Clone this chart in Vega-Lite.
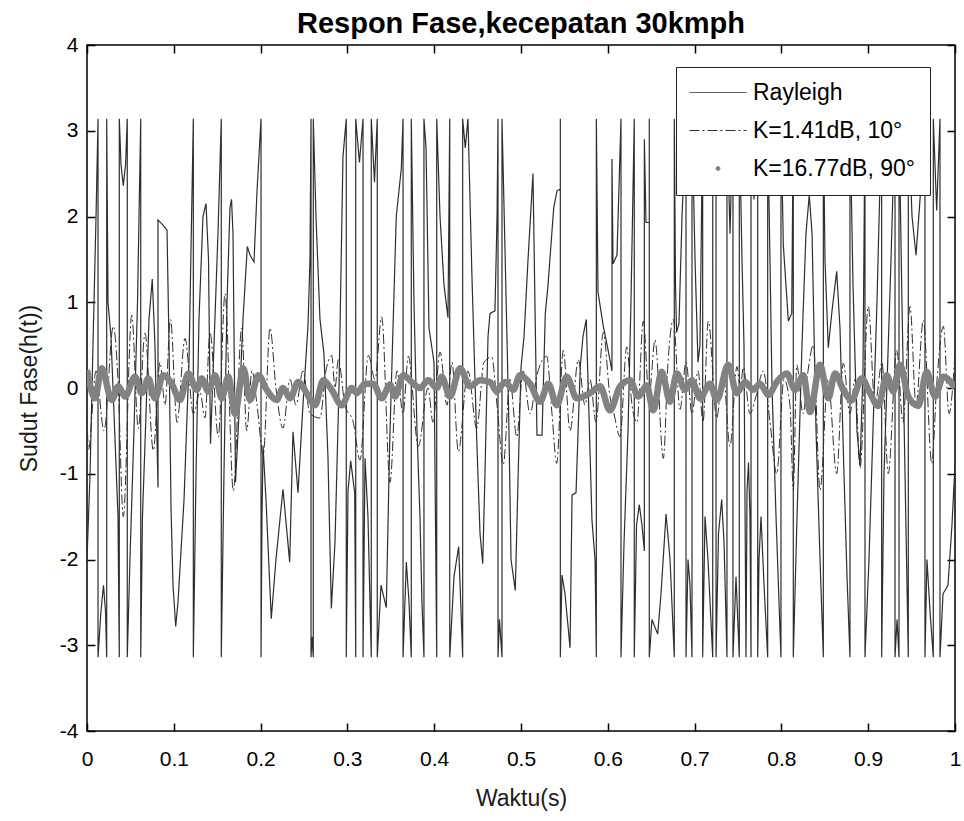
{
"$schema": "https://vega.github.io/schema/vega-lite/v6.json",
"width": 868, "height": 686,
"autosize": {"type": "none"},
"padding": {"left": 87, "top": 45, "right": 9, "bottom": 90},
"background": "white",
"title": {"text": "Respon Fase,kecepatan 30kmph", "font": "Liberation Sans", "fontSize": 29, "fontWeight": "bold", "color": "black", "anchor": "middle", "offset": 9, "dy": 14},
"config": {
  "view": {"stroke": "black", "strokeWidth": 1.5},
  "axis": {"grid": false, "domain": false, "labelFont": "Liberation Sans", "labelFontSize": 21, "labelColor": "black", "titleFont": "Liberation Sans", "titleFontSize": 23, "titleFontWeight": "normal", "titleColor": "#1a1a1a", "tickColor": "black", "tickWidth": 1.5, "tickSize": -8, "labelFlush": false, "labelBound": false, "labelOverlap": false, "minExtent": 0},
  "legend": {"orient": "none", "legendX": 589, "legendY": 22, "title": null, "fillColor": "white", "strokeColor": "#222222", "padding": 14, "labelFont": "Liberation Sans", "labelFontSize": 23, "labelColor": "black", "labelLimit": 400, "symbolSize": 400, "rowPadding": 14, "symbolOffset": 16.5, "labelOffset": 23.5, "symbolStrokeWidth": 1}
},
"datasets": {
"ray": [
{"s":"Rayleigh","i":1,"t":0,"v":-2},{"s":"Rayleigh","i":2,"t":0.0035,"v":-1},{"s":"Rayleigh","i":3,"t":0.0069,"v":0.5},{"s":"Rayleigh","i":4,"t":0.0104,"v":2},{"s":"Rayleigh","i":5,"t":0.0127,"v":3.14},{"s":"Rayleigh","i":6,"t":0.0127,"v":-3.14},{"s":"Rayleigh","i":7,"t":0.0161,"v":-2.6},{"s":"Rayleigh","i":8,"t":0.019,"v":-2.3},{"s":"Rayleigh","i":9,"t":0.0213,"v":-2.6},{"s":"Rayleigh","i":10,"t":0.0227,"v":-3.14},
{"s":"Rayleigh","i":11,"t":0.0227,"v":3.14},{"s":"Rayleigh","i":12,"t":0.0242,"v":1},{"s":"Rayleigh","i":13,"t":0.0276,"v":0.6},{"s":"Rayleigh","i":14,"t":0.0323,"v":-0.6},{"s":"Rayleigh","i":15,"t":0.0357,"v":-1.5},{"s":"Rayleigh","i":16,"t":0.0372,"v":-3.14},{"s":"Rayleigh","i":17,"t":0.0372,"v":3.14},{"s":"Rayleigh","i":18,"t":0.0392,"v":2.6},{"s":"Rayleigh","i":19,"t":0.0418,"v":2.36},{"s":"Rayleigh","i":20,"t":0.0444,"v":2.6},
{"s":"Rayleigh","i":21,"t":0.0464,"v":3.14},{"s":"Rayleigh","i":22,"t":0.0464,"v":-3.14},{"s":"Rayleigh","i":23,"t":0.0495,"v":-2},{"s":"Rayleigh","i":24,"t":0.0541,"v":-0.5},{"s":"Rayleigh","i":25,"t":0.0582,"v":1},{"s":"Rayleigh","i":26,"t":0.0619,"v":3.14},{"s":"Rayleigh","i":27,"t":0.0619,"v":-3.14},{"s":"Rayleigh","i":28,"t":0.0639,"v":-1.5},{"s":"Rayleigh","i":29,"t":0.068,"v":-0.3},{"s":"Rayleigh","i":30,"t":0.0714,"v":0.8},
{"s":"Rayleigh","i":31,"t":0.0752,"v":1.27},{"s":"Rayleigh","i":32,"t":0.0783,"v":0.5},{"s":"Rayleigh","i":33,"t":0.0818,"v":-1.16},{"s":"Rayleigh","i":34,"t":0.0818,"v":1.96},{"s":"Rayleigh","i":35,"t":0.0876,"v":1.9},{"s":"Rayleigh","i":36,"t":0.0922,"v":1.84},{"s":"Rayleigh","i":37,"t":0.0945,"v":0.5},{"s":"Rayleigh","i":38,"t":0.0968,"v":-1.4},{"s":"Rayleigh","i":39,"t":0.0991,"v":-2.3},{"s":"Rayleigh","i":40,"t":0.1022,"v":-2.78},
{"s":"Rayleigh","i":41,"t":0.1048,"v":-2.5},{"s":"Rayleigh","i":42,"t":0.1118,"v":-1.3},{"s":"Rayleigh","i":43,"t":0.1175,"v":0.3},{"s":"Rayleigh","i":44,"t":0.1225,"v":3.14},{"s":"Rayleigh","i":45,"t":0.1225,"v":-3.14},{"s":"Rayleigh","i":46,"t":0.1256,"v":-1},{"s":"Rayleigh","i":47,"t":0.129,"v":0.8},{"s":"Rayleigh","i":48,"t":0.1336,"v":2},{"s":"Rayleigh","i":49,"t":0.1371,"v":2.15},{"s":"Rayleigh","i":50,"t":0.14,"v":1.5},
{"s":"Rayleigh","i":51,"t":0.1423,"v":-0.65},{"s":"Rayleigh","i":52,"t":0.1463,"v":0.5},{"s":"Rayleigh","i":53,"t":0.1509,"v":1.8},{"s":"Rayleigh","i":54,"t":0.1547,"v":3.14},{"s":"Rayleigh","i":55,"t":0.1547,"v":-3.14},{"s":"Rayleigh","i":56,"t":0.1578,"v":-1},{"s":"Rayleigh","i":57,"t":0.1613,"v":1},{"s":"Rayleigh","i":58,"t":0.1647,"v":2.1},{"s":"Rayleigh","i":59,"t":0.1665,"v":2.2},{"s":"Rayleigh","i":60,"t":0.1682,"v":1.8},
{"s":"Rayleigh","i":61,"t":0.1711,"v":-1.1},{"s":"Rayleigh","i":62,"t":0.1751,"v":-0.3},{"s":"Rayleigh","i":63,"t":0.1797,"v":0.8},{"s":"Rayleigh","i":64,"t":0.1847,"v":1.65},{"s":"Rayleigh","i":65,"t":0.1878,"v":1.55},{"s":"Rayleigh","i":66,"t":0.1924,"v":1.47},{"s":"Rayleigh","i":67,"t":0.1959,"v":2.3},{"s":"Rayleigh","i":68,"t":0.2005,"v":3.14},{"s":"Rayleigh","i":69,"t":0.2005,"v":-3.14},{"s":"Rayleigh","i":70,"t":0.2016,"v":-1.5},
{"s":"Rayleigh","i":71,"t":0.2028,"v":-0.67},{"s":"Rayleigh","i":72,"t":0.2062,"v":-1.3},{"s":"Rayleigh","i":73,"t":0.2123,"v":-2.69},{"s":"Rayleigh","i":74,"t":0.2177,"v":-2},{"s":"Rayleigh","i":75,"t":0.2258,"v":-1.18},{"s":"Rayleigh","i":76,"t":0.2335,"v":-2.03},{"s":"Rayleigh","i":77,"t":0.2373,"v":-0.51},{"s":"Rayleigh","i":78,"t":0.2431,"v":-1.22},{"s":"Rayleigh","i":79,"t":0.2488,"v":-0.2},{"s":"Rayleigh","i":80,"t":0.2546,"v":0.73},
{"s":"Rayleigh","i":81,"t":0.2569,"v":1.5},{"s":"Rayleigh","i":82,"t":0.2581,"v":3.14},{"s":"Rayleigh","i":83,"t":0.2581,"v":-3.14},{"s":"Rayleigh","i":84,"t":0.2592,"v":-2.9},{"s":"Rayleigh","i":85,"t":0.2607,"v":-3.14},{"s":"Rayleigh","i":86,"t":0.2607,"v":3.14},{"s":"Rayleigh","i":87,"t":0.2638,"v":2},{"s":"Rayleigh","i":88,"t":0.2684,"v":0.8},{"s":"Rayleigh","i":89,"t":0.273,"v":0.4},{"s":"Rayleigh","i":90,"t":0.2776,"v":-0.8},
{"s":"Rayleigh","i":91,"t":0.2815,"v":-2.57},{"s":"Rayleigh","i":92,"t":0.2857,"v":-1.8},{"s":"Rayleigh","i":93,"t":0.2903,"v":0},{"s":"Rayleigh","i":94,"t":0.2949,"v":2.7},{"s":"Rayleigh","i":95,"t":0.2987,"v":3.14},{"s":"Rayleigh","i":96,"t":0.2987,"v":-3.14},{"s":"Rayleigh","i":97,"t":0.3007,"v":-1.2},{"s":"Rayleigh","i":98,"t":0.3038,"v":-0.85},{"s":"Rayleigh","i":99,"t":0.3084,"v":-1.22},{"s":"Rayleigh","i":100,"t":0.3096,"v":-3.14},
{"s":"Rayleigh","i":101,"t":0.3096,"v":3.14},{"s":"Rayleigh","i":102,"t":0.3139,"v":2.63},{"s":"Rayleigh","i":103,"t":0.318,"v":3.14},{"s":"Rayleigh","i":104,"t":0.318,"v":-3.14},{"s":"Rayleigh","i":105,"t":0.3203,"v":-0.82},{"s":"Rayleigh","i":106,"t":0.3237,"v":-1.5},{"s":"Rayleigh","i":107,"t":0.3275,"v":-3.14},{"s":"Rayleigh","i":108,"t":0.3275,"v":3.14},{"s":"Rayleigh","i":109,"t":0.3312,"v":2.4},{"s":"Rayleigh","i":110,"t":0.3344,"v":3.14},
{"s":"Rayleigh","i":111,"t":0.3344,"v":-3.14},{"s":"Rayleigh","i":112,"t":0.3387,"v":-2.3},{"s":"Rayleigh","i":113,"t":0.3448,"v":-2.56},{"s":"Rayleigh","i":114,"t":0.3487,"v":-0.65},{"s":"Rayleigh","i":115,"t":0.3525,"v":0.69},{"s":"Rayleigh","i":116,"t":0.3563,"v":2},{"s":"Rayleigh","i":117,"t":0.3621,"v":2.56},{"s":"Rayleigh","i":118,"t":0.3641,"v":3.14},{"s":"Rayleigh","i":119,"t":0.3641,"v":-3.14},{"s":"Rayleigh","i":120,"t":0.3679,"v":-2.03},
{"s":"Rayleigh","i":121,"t":0.371,"v":-2.5},{"s":"Rayleigh","i":122,"t":0.3736,"v":-3.14},{"s":"Rayleigh","i":123,"t":0.3736,"v":3.14},{"s":"Rayleigh","i":124,"t":0.3767,"v":1},{"s":"Rayleigh","i":125,"t":0.3802,"v":-0.5},{"s":"Rayleigh","i":126,"t":0.3836,"v":-1.5},{"s":"Rayleigh","i":127,"t":0.3859,"v":-2.5},{"s":"Rayleigh","i":128,"t":0.3882,"v":-3.14},{"s":"Rayleigh","i":129,"t":0.3882,"v":3.14},{"s":"Rayleigh","i":130,"t":0.3906,"v":2.8},
{"s":"Rayleigh","i":131,"t":0.394,"v":0.7},{"s":"Rayleigh","i":132,"t":0.3998,"v":0.3},{"s":"Rayleigh","i":133,"t":0.4029,"v":-3.14},{"s":"Rayleigh","i":134,"t":0.4029,"v":3.14},{"s":"Rayleigh","i":135,"t":0.4067,"v":2},{"s":"Rayleigh","i":136,"t":0.4113,"v":1.2},{"s":"Rayleigh","i":137,"t":0.4159,"v":0.82},{"s":"Rayleigh","i":138,"t":0.4179,"v":3.14},{"s":"Rayleigh","i":139,"t":0.4179,"v":-3.14},{"s":"Rayleigh","i":140,"t":0.4228,"v":-2.2},
{"s":"Rayleigh","i":141,"t":0.4282,"v":-1.85},{"s":"Rayleigh","i":142,"t":0.4328,"v":-3.14},{"s":"Rayleigh","i":143,"t":0.4328,"v":3.14},{"s":"Rayleigh","i":144,"t":0.4358,"v":2.8},{"s":"Rayleigh","i":145,"t":0.4389,"v":3.14},{"s":"Rayleigh","i":146,"t":0.4435,"v":1.3},{"s":"Rayleigh","i":147,"t":0.449,"v":-0.6},{"s":"Rayleigh","i":148,"t":0.4528,"v":-1.7},{"s":"Rayleigh","i":149,"t":0.4559,"v":-2.05},{"s":"Rayleigh","i":150,"t":0.4585,"v":-1},
{"s":"Rayleigh","i":151,"t":0.462,"v":0.6},{"s":"Rayleigh","i":152,"t":0.4643,"v":0.87},{"s":"Rayleigh","i":153,"t":0.47,"v":0.9},{"s":"Rayleigh","i":154,"t":0.4724,"v":2},{"s":"Rayleigh","i":155,"t":0.4735,"v":3.14},{"s":"Rayleigh","i":156,"t":0.4735,"v":-3.14},{"s":"Rayleigh","i":157,"t":0.4752,"v":-2.7},{"s":"Rayleigh","i":158,"t":0.4781,"v":-3.14},{"s":"Rayleigh","i":159,"t":0.4781,"v":3.14},{"s":"Rayleigh","i":160,"t":0.4816,"v":1.6},
{"s":"Rayleigh","i":161,"t":0.4858,"v":-0.3},{"s":"Rayleigh","i":162,"t":0.4885,"v":-2},{"s":"Rayleigh","i":163,"t":0.4934,"v":-2.36},{"s":"Rayleigh","i":164,"t":0.4965,"v":-1.1},{"s":"Rayleigh","i":165,"t":0.5,"v":0.24},{"s":"Rayleigh","i":166,"t":0.5035,"v":0.6},{"s":"Rayleigh","i":167,"t":0.5081,"v":1.5},{"s":"Rayleigh","i":168,"t":0.5138,"v":2.5},{"s":"Rayleigh","i":169,"t":0.5165,"v":0.7},{"s":"Rayleigh","i":170,"t":0.5184,"v":-0.55},
{"s":"Rayleigh","i":171,"t":0.5242,"v":-0.55},{"s":"Rayleigh","i":172,"t":0.528,"v":0.87},{"s":"Rayleigh","i":173,"t":0.5311,"v":1.2},{"s":"Rayleigh","i":174,"t":0.5377,"v":2.1},{"s":"Rayleigh","i":175,"t":0.5415,"v":2.3},{"s":"Rayleigh","i":176,"t":0.5453,"v":2.32},{"s":"Rayleigh","i":177,"t":0.5453,"v":3.14},{"s":"Rayleigh","i":178,"t":0.5453,"v":-3.14},{"s":"Rayleigh","i":179,"t":0.5472,"v":-2.18},{"s":"Rayleigh","i":180,"t":0.5507,"v":-2.4},
{"s":"Rayleigh","i":181,"t":0.5565,"v":-3.03},{"s":"Rayleigh","i":182,"t":0.5588,"v":-1.25},{"s":"Rayleigh","i":183,"t":0.5634,"v":-1.22},{"s":"Rayleigh","i":184,"t":0.5683,"v":0.25},{"s":"Rayleigh","i":185,"t":0.5714,"v":0.6},{"s":"Rayleigh","i":186,"t":0.5752,"v":0.8},{"s":"Rayleigh","i":187,"t":0.578,"v":-0.2},{"s":"Rayleigh","i":188,"t":0.5818,"v":-1.55},{"s":"Rayleigh","i":189,"t":0.5853,"v":-2},{"s":"Rayleigh","i":190,"t":0.5868,"v":-3.14},
{"s":"Rayleigh","i":191,"t":0.5868,"v":3.14},{"s":"Rayleigh","i":192,"t":0.5887,"v":1.12},{"s":"Rayleigh","i":193,"t":0.5945,"v":0.74},{"s":"Rayleigh","i":194,"t":0.6002,"v":0.45},{"s":"Rayleigh","i":195,"t":0.6048,"v":0.2},{"s":"Rayleigh","i":196,"t":0.6048,"v":2.67},{"s":"Rayleigh","i":197,"t":0.606,"v":1.45},{"s":"Rayleigh","i":198,"t":0.6106,"v":1.55},{"s":"Rayleigh","i":199,"t":0.6152,"v":3.14},{"s":"Rayleigh","i":200,"t":0.6152,"v":-3.14},
{"s":"Rayleigh","i":201,"t":0.6187,"v":-1.8},{"s":"Rayleigh","i":202,"t":0.6233,"v":-0.5},{"s":"Rayleigh","i":203,"t":0.6267,"v":1},{"s":"Rayleigh","i":204,"t":0.6305,"v":3.14},{"s":"Rayleigh","i":205,"t":0.6305,"v":-3.14},{"s":"Rayleigh","i":206,"t":0.6331,"v":-1.6},{"s":"Rayleigh","i":207,"t":0.6363,"v":-1.36},{"s":"Rayleigh","i":208,"t":0.6394,"v":-1.6},{"s":"Rayleigh","i":209,"t":0.6421,"v":-1.9},{"s":"Rayleigh","i":210,"t":0.6421,"v":2.9},
{"s":"Rayleigh","i":211,"t":0.644,"v":1.93},{"s":"Rayleigh","i":212,"t":0.6478,"v":1.93},{"s":"Rayleigh","i":213,"t":0.6478,"v":3.14},{"s":"Rayleigh","i":214,"t":0.6478,"v":-3.14},{"s":"Rayleigh","i":215,"t":0.6509,"v":-2.7},{"s":"Rayleigh","i":216,"t":0.6575,"v":-2.87},{"s":"Rayleigh","i":217,"t":0.6613,"v":-2.4},{"s":"Rayleigh","i":218,"t":0.6671,"v":-1.47},{"s":"Rayleigh","i":219,"t":0.6717,"v":-2},{"s":"Rayleigh","i":220,"t":0.6766,"v":-3.14},
{"s":"Rayleigh","i":221,"t":0.6766,"v":3.14},{"s":"Rayleigh","i":222,"t":0.678,"v":1.2},{"s":"Rayleigh","i":223,"t":0.6792,"v":0.65},{"s":"Rayleigh","i":224,"t":0.682,"v":0.75},{"s":"Rayleigh","i":225,"t":0.6855,"v":2},{"s":"Rayleigh","i":226,"t":0.6901,"v":3.14},{"s":"Rayleigh","i":227,"t":0.6901,"v":-3.14},{"s":"Rayleigh","i":228,"t":0.6924,"v":-2},{"s":"Rayleigh","i":229,"t":0.6947,"v":-2.3},{"s":"Rayleigh","i":230,"t":0.697,"v":-3.14},
{"s":"Rayleigh","i":231,"t":0.697,"v":3.14},{"s":"Rayleigh","i":232,"t":0.7005,"v":1.5},{"s":"Rayleigh","i":233,"t":0.7039,"v":0.3},{"s":"Rayleigh","i":234,"t":0.7062,"v":0.5},{"s":"Rayleigh","i":235,"t":0.7093,"v":3.14},{"s":"Rayleigh","i":236,"t":0.7093,"v":-3.14},{"s":"Rayleigh","i":237,"t":0.712,"v":-1.5},{"s":"Rayleigh","i":238,"t":0.7154,"v":-2},{"s":"Rayleigh","i":239,"t":0.7209,"v":-3.14},{"s":"Rayleigh","i":240,"t":0.7209,"v":3.14},
{"s":"Rayleigh","i":241,"t":0.7224,"v":2.6},{"s":"Rayleigh","i":242,"t":0.7247,"v":3.14},{"s":"Rayleigh","i":243,"t":0.7247,"v":-3.14},{"s":"Rayleigh","i":244,"t":0.7275,"v":-1.7},{"s":"Rayleigh","i":245,"t":0.7312,"v":-1.3},{"s":"Rayleigh","i":246,"t":0.7339,"v":-1.8},{"s":"Rayleigh","i":247,"t":0.7373,"v":-3.14},{"s":"Rayleigh","i":248,"t":0.7373,"v":3.14},{"s":"Rayleigh","i":249,"t":0.7408,"v":1.8},{"s":"Rayleigh","i":250,"t":0.7442,"v":3.14},
{"s":"Rayleigh","i":251,"t":0.7442,"v":-3.14},{"s":"Rayleigh","i":252,"t":0.7477,"v":-2.2},{"s":"Rayleigh","i":253,"t":0.7515,"v":-3.14},{"s":"Rayleigh","i":254,"t":0.7515,"v":3.14},{"s":"Rayleigh","i":255,"t":0.7546,"v":1.5},{"s":"Rayleigh","i":256,"t":0.7569,"v":0.5},{"s":"Rayleigh","i":257,"t":0.7592,"v":-3.14},{"s":"Rayleigh","i":258,"t":0.7604,"v":-1.2},{"s":"Rayleigh","i":259,"t":0.7621,"v":-0.87},{"s":"Rayleigh","i":260,"t":0.7638,"v":-1.5},
{"s":"Rayleigh","i":261,"t":0.765,"v":-3.14},{"s":"Rayleigh","i":262,"t":0.765,"v":3.14},{"s":"Rayleigh","i":263,"t":0.7684,"v":2.2},{"s":"Rayleigh","i":264,"t":0.7727,"v":3.14},{"s":"Rayleigh","i":265,"t":0.7727,"v":-3.14},{"s":"Rayleigh","i":266,"t":0.7742,"v":-2},{"s":"Rayleigh","i":267,"t":0.7765,"v":-1.5},{"s":"Rayleigh","i":268,"t":0.78,"v":-2.3},{"s":"Rayleigh","i":269,"t":0.7842,"v":-3.14},{"s":"Rayleigh","i":270,"t":0.7842,"v":3.14},
{"s":"Rayleigh","i":271,"t":0.7892,"v":0},{"s":"Rayleigh","i":272,"t":0.7938,"v":-1.5},{"s":"Rayleigh","i":273,"t":0.7995,"v":-3.14},{"s":"Rayleigh","i":274,"t":0.7995,"v":3.14},{"s":"Rayleigh","i":275,"t":0.8022,"v":1.67},{"s":"Rayleigh","i":276,"t":0.808,"v":0.78},{"s":"Rayleigh","i":277,"t":0.8119,"v":0.87},{"s":"Rayleigh","i":278,"t":0.8137,"v":3.14},{"s":"Rayleigh","i":279,"t":0.8137,"v":-3.14},{"s":"Rayleigh","i":280,"t":0.818,"v":-1.5},
{"s":"Rayleigh","i":281,"t":0.8237,"v":0.5},{"s":"Rayleigh","i":282,"t":0.8283,"v":1.8},{"s":"Rayleigh","i":283,"t":0.8321,"v":2.25},{"s":"Rayleigh","i":284,"t":0.8353,"v":1.8},{"s":"Rayleigh","i":285,"t":0.8399,"v":-0.5},{"s":"Rayleigh","i":286,"t":0.8445,"v":-2},{"s":"Rayleigh","i":287,"t":0.8483,"v":-3.14},{"s":"Rayleigh","i":288,"t":0.8483,"v":3.14},{"s":"Rayleigh","i":289,"t":0.8502,"v":1.5},{"s":"Rayleigh","i":290,"t":0.854,"v":0.47},
{"s":"Rayleigh","i":291,"t":0.8583,"v":0.9},{"s":"Rayleigh","i":292,"t":0.8637,"v":1.36},{"s":"Rayleigh","i":293,"t":0.8675,"v":0.7},{"s":"Rayleigh","i":294,"t":0.8721,"v":-1},{"s":"Rayleigh","i":295,"t":0.8756,"v":-2.2},{"s":"Rayleigh","i":296,"t":0.879,"v":-3.14},{"s":"Rayleigh","i":297,"t":0.879,"v":3.14},{"s":"Rayleigh","i":298,"t":0.8825,"v":1.2},{"s":"Rayleigh","i":299,"t":0.8871,"v":-0.5},{"s":"Rayleigh","i":300,"t":0.8906,"v":-0.91},
{"s":"Rayleigh","i":301,"t":0.894,"v":0.2},{"s":"Rayleigh","i":302,"t":0.8963,"v":3.14},{"s":"Rayleigh","i":303,"t":0.8963,"v":-3.14},{"s":"Rayleigh","i":304,"t":0.9009,"v":-2},{"s":"Rayleigh","i":305,"t":0.9055,"v":-0.5},{"s":"Rayleigh","i":306,"t":0.9101,"v":1},{"s":"Rayleigh","i":307,"t":0.9155,"v":3.14},{"s":"Rayleigh","i":308,"t":0.9155,"v":-3.14},{"s":"Rayleigh","i":309,"t":0.9182,"v":-1},{"s":"Rayleigh","i":310,"t":0.9228,"v":0.4},
{"s":"Rayleigh","i":311,"t":0.9263,"v":1.5},{"s":"Rayleigh","i":312,"t":0.9309,"v":3.14},{"s":"Rayleigh","i":313,"t":0.9309,"v":-3.14},{"s":"Rayleigh","i":314,"t":0.9332,"v":-2.7},{"s":"Rayleigh","i":315,"t":0.9355,"v":-3.14},{"s":"Rayleigh","i":316,"t":0.9355,"v":3.14},{"s":"Rayleigh","i":317,"t":0.9389,"v":1},{"s":"Rayleigh","i":318,"t":0.9424,"v":-1},{"s":"Rayleigh","i":319,"t":0.9462,"v":-3.14},{"s":"Rayleigh","i":320,"t":0.9462,"v":3.14},
{"s":"Rayleigh","i":321,"t":0.9505,"v":2},{"s":"Rayleigh","i":322,"t":0.9551,"v":1.55},{"s":"Rayleigh","i":323,"t":0.9597,"v":2.2},{"s":"Rayleigh","i":324,"t":0.9654,"v":3.14},{"s":"Rayleigh","i":325,"t":0.9654,"v":-3.14},{"s":"Rayleigh","i":326,"t":0.9677,"v":-2},{"s":"Rayleigh","i":327,"t":0.9712,"v":-2.6},{"s":"Rayleigh","i":328,"t":0.975,"v":-3.14},{"s":"Rayleigh","i":329,"t":0.975,"v":3.14},{"s":"Rayleigh","i":330,"t":0.9789,"v":2.07},
{"s":"Rayleigh","i":331,"t":0.9827,"v":3.14},{"s":"Rayleigh","i":332,"t":0.9827,"v":-3.14},{"s":"Rayleigh","i":333,"t":0.9862,"v":-2.4},{"s":"Rayleigh","i":334,"t":0.9919,"v":-2.3},{"s":"Rayleigh","i":335,"t":0.9965,"v":-1.6},{"s":"Rayleigh","i":336,"t":1,"v":-0.9}
],
"k1": [
{"s":"K=1.41dB, 10°","t":0,"v":-0.3},{"s":"K=1.41dB, 10°","t":0.0017,"v":-0.72},{"s":"K=1.41dB, 10°","t":0.0104,"v":0.2},{"s":"K=1.41dB, 10°","t":0.0196,"v":-0.5},{"s":"K=1.41dB, 10°","t":0.0303,"v":0.72},{"s":"K=1.41dB, 10°","t":0.0357,"v":0.1},{"s":"K=1.41dB, 10°","t":0.0418,"v":-1.5},{"s":"K=1.41dB, 10°","t":0.0515,"v":0.85},{"s":"K=1.41dB, 10°","t":0.0591,"v":-0.47},{"s":"K=1.41dB, 10°","t":0.0668,"v":0.64},
{"s":"K=1.41dB, 10°","t":0.0764,"v":-0.73},{"s":"K=1.41dB, 10°","t":0.0841,"v":0.3},{"s":"K=1.41dB, 10°","t":0.0899,"v":-0.2},{"s":"K=1.41dB, 10°","t":0.0962,"v":0.8},{"s":"K=1.41dB, 10°","t":0.1037,"v":-0.4},{"s":"K=1.41dB, 10°","t":0.1129,"v":0.58},{"s":"K=1.41dB, 10°","t":0.1225,"v":-0.3},{"s":"K=1.41dB, 10°","t":0.1302,"v":-0.05},{"s":"K=1.41dB, 10°","t":0.1359,"v":-0.35},{"s":"K=1.41dB, 10°","t":0.1417,"v":0.65},
{"s":"K=1.41dB, 10°","t":0.1513,"v":-0.57},{"s":"K=1.41dB, 10°","t":0.159,"v":1.1},{"s":"K=1.41dB, 10°","t":0.1686,"v":-1.2},{"s":"K=1.41dB, 10°","t":0.1782,"v":0.7},{"s":"K=1.41dB, 10°","t":0.184,"v":-0.5},{"s":"K=1.41dB, 10°","t":0.1901,"v":0.2},{"s":"K=1.41dB, 10°","t":0.1959,"v":-0.2},{"s":"K=1.41dB, 10°","t":0.2031,"v":-0.78},{"s":"K=1.41dB, 10°","t":0.2108,"v":0.7},{"s":"K=1.41dB, 10°","t":0.2177,"v":0},
{"s":"K=1.41dB, 10°","t":0.2258,"v":-0.47},{"s":"K=1.41dB, 10°","t":0.2339,"v":0.1},{"s":"K=1.41dB, 10°","t":0.2408,"v":-0.2},{"s":"K=1.41dB, 10°","t":0.2488,"v":0.2},{"s":"K=1.41dB, 10°","t":0.2569,"v":-0.3},{"s":"K=1.41dB, 10°","t":0.2684,"v":-0.35},{"s":"K=1.41dB, 10°","t":0.2753,"v":0.2},{"s":"K=1.41dB, 10°","t":0.2819,"v":0.38},{"s":"K=1.41dB, 10°","t":0.2857,"v":0},{"s":"K=1.41dB, 10°","t":0.2895,"v":0.33},
{"s":"K=1.41dB, 10°","t":0.2972,"v":-0.2},{"s":"K=1.41dB, 10°","t":0.3068,"v":-0.4},{"s":"K=1.41dB, 10°","t":0.3145,"v":-0.84},{"s":"K=1.41dB, 10°","t":0.3241,"v":0.38},{"s":"K=1.41dB, 10°","t":0.3318,"v":0.1},{"s":"K=1.41dB, 10°","t":0.3395,"v":0.83},{"s":"K=1.41dB, 10°","t":0.3491,"v":-1.1},{"s":"K=1.41dB, 10°","t":0.3571,"v":0.2},{"s":"K=1.41dB, 10°","t":0.3641,"v":-0.3},{"s":"K=1.41dB, 10°","t":0.3702,"v":0.37},
{"s":"K=1.41dB, 10°","t":0.3817,"v":-0.68},{"s":"K=1.41dB, 10°","t":0.3929,"v":0},{"s":"K=1.41dB, 10°","t":0.3986,"v":-0.4},{"s":"K=1.41dB, 10°","t":0.4067,"v":0.42},{"s":"K=1.41dB, 10°","t":0.4147,"v":-0.2},{"s":"K=1.41dB, 10°","t":0.4205,"v":0.3},{"s":"K=1.41dB, 10°","t":0.4278,"v":-0.74},{"s":"K=1.41dB, 10°","t":0.4389,"v":0.2},{"s":"K=1.41dB, 10°","t":0.449,"v":-0.47},{"s":"K=1.41dB, 10°","t":0.4574,"v":0.3},
{"s":"K=1.41dB, 10°","t":0.4663,"v":0.36},{"s":"K=1.41dB, 10°","t":0.4724,"v":-0.2},{"s":"K=1.41dB, 10°","t":0.4796,"v":-0.89},{"s":"K=1.41dB, 10°","t":0.4873,"v":0.1},{"s":"K=1.41dB, 10°","t":0.4951,"v":-0.57},{"s":"K=1.41dB, 10°","t":0.5023,"v":0.2},{"s":"K=1.41dB, 10°","t":0.5104,"v":-0.3},{"s":"K=1.41dB, 10°","t":0.5184,"v":0.15},{"s":"K=1.41dB, 10°","t":0.5296,"v":0.37},{"s":"K=1.41dB, 10°","t":0.5357,"v":-0.3},
{"s":"K=1.41dB, 10°","t":0.5411,"v":-0.88},{"s":"K=1.41dB, 10°","t":0.5487,"v":0.44},{"s":"K=1.41dB, 10°","t":0.5565,"v":-0.5},{"s":"K=1.41dB, 10°","t":0.566,"v":0.33},{"s":"K=1.41dB, 10°","t":0.5737,"v":-0.2},{"s":"K=1.41dB, 10°","t":0.5795,"v":0.1},{"s":"K=1.41dB, 10°","t":0.5864,"v":-0.4},{"s":"K=1.41dB, 10°","t":0.5948,"v":0.65},{"s":"K=1.41dB, 10°","t":0.6025,"v":-0.1},{"s":"K=1.41dB, 10°","t":0.6071,"v":-0.3},
{"s":"K=1.41dB, 10°","t":0.6141,"v":-0.57},{"s":"K=1.41dB, 10°","t":0.6218,"v":0.48},{"s":"K=1.41dB, 10°","t":0.6279,"v":-0.2},{"s":"K=1.41dB, 10°","t":0.6336,"v":-0.4},{"s":"K=1.41dB, 10°","t":0.6409,"v":0.78},{"s":"K=1.41dB, 10°","t":0.6475,"v":-0.1},{"s":"K=1.41dB, 10°","t":0.6544,"v":0.56},{"s":"K=1.41dB, 10°","t":0.664,"v":-0.82},{"s":"K=1.41dB, 10°","t":0.6694,"v":0.3},{"s":"K=1.41dB, 10°","t":0.6755,"v":0.8},
{"s":"K=1.41dB, 10°","t":0.6832,"v":-0.25},{"s":"K=1.41dB, 10°","t":0.6901,"v":0.3},{"s":"K=1.41dB, 10°","t":0.697,"v":-0.3},{"s":"K=1.41dB, 10°","t":0.7039,"v":0.2},{"s":"K=1.41dB, 10°","t":0.7097,"v":-0.4},{"s":"K=1.41dB, 10°","t":0.7158,"v":0.78},{"s":"K=1.41dB, 10°","t":0.7255,"v":-0.35},{"s":"K=1.41dB, 10°","t":0.7327,"v":0.2},{"s":"K=1.41dB, 10°","t":0.7408,"v":-0.68},{"s":"K=1.41dB, 10°","t":0.7488,"v":0.25},
{"s":"K=1.41dB, 10°","t":0.7525,"v":0},{"s":"K=1.41dB, 10°","t":0.7561,"v":0.24},{"s":"K=1.41dB, 10°","t":0.7638,"v":-0.3},{"s":"K=1.41dB, 10°","t":0.7707,"v":-0.1},{"s":"K=1.41dB, 10°","t":0.7791,"v":0.2},{"s":"K=1.41dB, 10°","t":0.7869,"v":-0.4},{"s":"K=1.41dB, 10°","t":0.7946,"v":-1},{"s":"K=1.41dB, 10°","t":0.803,"v":0.1},{"s":"K=1.41dB, 10°","t":0.8099,"v":-0.2},{"s":"K=1.41dB, 10°","t":0.8137,"v":-1.19},
{"s":"K=1.41dB, 10°","t":0.8177,"v":0.27},{"s":"K=1.41dB, 10°","t":0.8249,"v":-0.3},{"s":"K=1.41dB, 10°","t":0.8307,"v":0.2},{"s":"K=1.41dB, 10°","t":0.8368,"v":0.5},{"s":"K=1.41dB, 10°","t":0.8445,"v":-1.19},{"s":"K=1.41dB, 10°","t":0.8537,"v":0.1},{"s":"K=1.41dB, 10°","t":0.8637,"v":-1},{"s":"K=1.41dB, 10°","t":0.8713,"v":0.29},{"s":"K=1.41dB, 10°","t":0.879,"v":-0.3},{"s":"K=1.41dB, 10°","t":0.8848,"v":0.1},
{"s":"K=1.41dB, 10°","t":0.8906,"v":-0.93},{"s":"K=1.41dB, 10°","t":0.9001,"v":0.95},{"s":"K=1.41dB, 10°","t":0.9078,"v":-0.2},{"s":"K=1.41dB, 10°","t":0.9159,"v":0.3},{"s":"K=1.41dB, 10°","t":0.9231,"v":-1},{"s":"K=1.41dB, 10°","t":0.9328,"v":0.44},{"s":"K=1.41dB, 10°","t":0.9401,"v":-0.4},{"s":"K=1.41dB, 10°","t":0.9482,"v":0.95},{"s":"K=1.41dB, 10°","t":0.9551,"v":-0.2},{"s":"K=1.41dB, 10°","t":0.9635,"v":0.79},
{"s":"K=1.41dB, 10°","t":0.9732,"v":-0.88},{"s":"K=1.41dB, 10°","t":0.9793,"v":0.1},{"s":"K=1.41dB, 10°","t":0.9866,"v":0.72},{"s":"K=1.41dB, 10°","t":0.9931,"v":-0.3},{"s":"K=1.41dB, 10°","t":1,"v":0.4}
],
"k2": [
{"s":"K=16.77dB, 90°","t":0,"v":0.21},{"s":"K=16.77dB, 90°","t":0.0092,"v":-0.12},{"s":"K=16.77dB, 90°","t":0.0169,"v":0.23},{"s":"K=16.77dB, 90°","t":0.0285,"v":-0.14},{"s":"K=16.77dB, 90°","t":0.0361,"v":0.02},{"s":"K=16.77dB, 90°","t":0.0438,"v":-0.1},{"s":"K=16.77dB, 90°","t":0.0553,"v":0.13},{"s":"K=16.77dB, 90°","t":0.063,"v":-0.06},{"s":"K=16.77dB, 90°","t":0.0706,"v":0.11},{"s":"K=16.77dB, 90°","t":0.0783,"v":-0.12},
{"s":"K=16.77dB, 90°","t":0.0879,"v":0.15},{"s":"K=16.77dB, 90°","t":0.0976,"v":0.05},{"s":"K=16.77dB, 90°","t":0.1071,"v":-0.14},{"s":"K=16.77dB, 90°","t":0.1167,"v":0.17},{"s":"K=16.77dB, 90°","t":0.1264,"v":-0.02},{"s":"K=16.77dB, 90°","t":0.1321,"v":0.11},{"s":"K=16.77dB, 90°","t":0.1397,"v":-0.04},{"s":"K=16.77dB, 90°","t":0.1475,"v":0.15},{"s":"K=16.77dB, 90°","t":0.1552,"v":-0.12},{"s":"K=16.77dB, 90°","t":0.1628,"v":0.13},
{"s":"K=16.77dB, 90°","t":0.1705,"v":-0.3},{"s":"K=16.77dB, 90°","t":0.1801,"v":0.23},{"s":"K=16.77dB, 90°","t":0.1878,"v":-0.14},{"s":"K=16.77dB, 90°","t":0.1974,"v":0.15},{"s":"K=16.77dB, 90°","t":0.207,"v":-0.02},{"s":"K=16.77dB, 90°","t":0.2185,"v":-0.14},{"s":"K=16.77dB, 90°","t":0.2258,"v":0},{"s":"K=16.77dB, 90°","t":0.2339,"v":-0.12},{"s":"K=16.77dB, 90°","t":0.2434,"v":0.07},{"s":"K=16.77dB, 90°","t":0.2531,"v":-0.06},
{"s":"K=16.77dB, 90°","t":0.2627,"v":-0.2},{"s":"K=16.77dB, 90°","t":0.2722,"v":0.09},{"s":"K=16.77dB, 90°","t":0.2819,"v":-0.02},{"s":"K=16.77dB, 90°","t":0.2934,"v":-0.2},{"s":"K=16.77dB, 90°","t":0.305,"v":0},{"s":"K=16.77dB, 90°","t":0.3107,"v":-0.06},{"s":"K=16.77dB, 90°","t":0.3203,"v":0.05},{"s":"K=16.77dB, 90°","t":0.3298,"v":0.05},{"s":"K=16.77dB, 90°","t":0.3395,"v":-0.12},{"s":"K=16.77dB, 90°","t":0.3491,"v":0.04},
{"s":"K=16.77dB, 90°","t":0.3548,"v":-0.1},{"s":"K=16.77dB, 90°","t":0.3644,"v":0.15},{"s":"K=16.77dB, 90°","t":0.376,"v":0.05},{"s":"K=16.77dB, 90°","t":0.3836,"v":0},{"s":"K=16.77dB, 90°","t":0.3932,"v":0.09},{"s":"K=16.77dB, 90°","t":0.4029,"v":0},{"s":"K=16.77dB, 90°","t":0.4086,"v":0.13},{"s":"K=16.77dB, 90°","t":0.4182,"v":-0.1},{"s":"K=16.77dB, 90°","t":0.4297,"v":0.23},{"s":"K=16.77dB, 90°","t":0.4412,"v":0.02},
{"s":"K=16.77dB, 90°","t":0.4528,"v":0.09},{"s":"K=16.77dB, 90°","t":0.4643,"v":0.07},{"s":"K=16.77dB, 90°","t":0.472,"v":-0.04},{"s":"K=16.77dB, 90°","t":0.4816,"v":0.07},{"s":"K=16.77dB, 90°","t":0.4911,"v":-0.02},{"s":"K=16.77dB, 90°","t":0.4988,"v":0.15},{"s":"K=16.77dB, 90°","t":0.5104,"v":0.05},{"s":"K=16.77dB, 90°","t":0.5219,"v":-0.16},{"s":"K=16.77dB, 90°","t":0.5315,"v":0.05},{"s":"K=16.77dB, 90°","t":0.5411,"v":-0.2},
{"s":"K=16.77dB, 90°","t":0.5526,"v":0.13},{"s":"K=16.77dB, 90°","t":0.5642,"v":-0.12},{"s":"K=16.77dB, 90°","t":0.5795,"v":-0.06},{"s":"K=16.77dB, 90°","t":0.591,"v":0.02},{"s":"K=16.77dB, 90°","t":0.6025,"v":-0.26},{"s":"K=16.77dB, 90°","t":0.6141,"v":0.02},{"s":"K=16.77dB, 90°","t":0.6256,"v":0.09},{"s":"K=16.77dB, 90°","t":0.6351,"v":-0.1},{"s":"K=16.77dB, 90°","t":0.6448,"v":0.03},{"s":"K=16.77dB, 90°","t":0.6524,"v":-0.26},
{"s":"K=16.77dB, 90°","t":0.6621,"v":0.19},{"s":"K=16.77dB, 90°","t":0.6717,"v":-0.16},{"s":"K=16.77dB, 90°","t":0.6794,"v":0.17},{"s":"K=16.77dB, 90°","t":0.6889,"v":-0.02},{"s":"K=16.77dB, 90°","t":0.6967,"v":0.09},{"s":"K=16.77dB, 90°","t":0.7062,"v":-0.12},{"s":"K=16.77dB, 90°","t":0.7177,"v":0.05},{"s":"K=16.77dB, 90°","t":0.7255,"v":-0.14},{"s":"K=16.77dB, 90°","t":0.7388,"v":0.27},{"s":"K=16.77dB, 90°","t":0.7485,"v":-0.06},
{"s":"K=16.77dB, 90°","t":0.7581,"v":0.07},{"s":"K=16.77dB, 90°","t":0.7676,"v":-0.02},{"s":"K=16.77dB, 90°","t":0.7753,"v":0.05},{"s":"K=16.77dB, 90°","t":0.7849,"v":-0.08},{"s":"K=16.77dB, 90°","t":0.7946,"v":0.07},{"s":"K=16.77dB, 90°","t":0.8061,"v":0.17},{"s":"K=16.77dB, 90°","t":0.8157,"v":-0.02},{"s":"K=16.77dB, 90°","t":0.8252,"v":0.15},{"s":"K=16.77dB, 90°","t":0.833,"v":-0.28},{"s":"K=16.77dB, 90°","t":0.8445,"v":0.27},
{"s":"K=16.77dB, 90°","t":0.854,"v":-0.12},{"s":"K=16.77dB, 90°","t":0.8618,"v":0.17},{"s":"K=16.77dB, 90°","t":0.8713,"v":-0.02},{"s":"K=16.77dB, 90°","t":0.881,"v":-0.14},{"s":"K=16.77dB, 90°","t":0.8925,"v":0.11},{"s":"K=16.77dB, 90°","t":0.9021,"v":-0.06},{"s":"K=16.77dB, 90°","t":0.9116,"v":-0.21},{"s":"K=16.77dB, 90°","t":0.9213,"v":0.15},{"s":"K=16.77dB, 90°","t":0.9289,"v":-0.04},{"s":"K=16.77dB, 90°","t":0.9366,"v":0.27},
{"s":"K=16.77dB, 90°","t":0.9462,"v":-0.1},{"s":"K=16.77dB, 90°","t":0.9577,"v":-0.21},{"s":"K=16.77dB, 90°","t":0.9674,"v":0.19},{"s":"K=16.77dB, 90°","t":0.977,"v":-0.1},{"s":"K=16.77dB, 90°","t":0.9865,"v":0.13},{"s":"K=16.77dB, 90°","t":1,"v":0}
]
},
"layer": [
{
 "data": {"name": "ray"},
 "mark": {"type": "line", "strokeWidth": 1.2, "clip": true},
 "encoding": {
  "x": {"field": "t", "type": "quantitative", "scale": {"domain": [0, 1], "nice": false, "zero": false},
        "axis": {"orient": "bottom", "values": [0, 0.1, 0.2, 0.3, 0.4, 0.5, 0.6, 0.7, 0.8, 0.9, 1], "labelExpr": "'' + datum.value", "title": "Waktu(s)", "labelPadding": 25, "titlePadding": 18}},
  "y": {"field": "v", "type": "quantitative", "scale": {"domain": [-4, 4], "nice": false, "zero": false},
        "axis": {"orient": "left", "values": [-4, -3, -2, -1, 0, 1, 2, 3, 4], "labelExpr": "'' + datum.value", "title": "Sudut Fase(h(t))", "labelPadding": 17, "titlePadding": 18}},
  "color": {"field": "s", "type": "nominal",
     "scale": {"domain": ["Rayleigh", "K=1.41dB, 10°", "K=16.77dB, 90°"], "range": ["#2e2e2e", "#2e2e2e", "#828282"]},
     "legend": {"labelLimit": 400, "encode": {"symbols": {"update": {
        "shape": {"signal": "datum.value === 'K=16.77dB, 90°' ? 'M-0.2,0A0.2,0.2 0 1,0 0.2,0A0.2,0.2 0 1,0 -0.2,0Z' : 'M-2.85,0L2.85,0'"},
        "strokeDash": {"signal": "datum.value === 'K=1.41dB, 10°' ? [10, 3, 2, 3] : [1, 0]"},
        "fill": {"signal": "datum.value === 'K=16.77dB, 90°' ? '#828282' : 'transparent'"},
        "strokeWidth": {"value": 1}
     }}}}},
  "order": {"field": "i", "type": "quantitative"}
 }
},
{
 "data": {"name": "k1"},
 "mark": {"type": "line", "strokeWidth": 1, "strokeDash": [10, 3, 2, 3], "interpolate": "monotone", "clip": true},
 "encoding": {
  "x": {"field": "t", "type": "quantitative", "axis": null},
  "y": {"field": "v", "type": "quantitative", "axis": null},
  "color": {"field": "s", "type": "nominal"}
 }
},
{
 "data": {"name": "k2"},
 "mark": {"type": "line", "strokeWidth": 6.5, "interpolate": "monotone", "clip": true},
 "encoding": {
  "x": {"field": "t", "type": "quantitative", "axis": null},
  "y": {"field": "v", "type": "quantitative", "axis": null},
  "color": {"field": "s", "type": "nominal"}
 }
},
{
 "data": {"values": [{"t": 0, "v": 0}]},
 "mark": {"type": "point", "opacity": 0},
 "encoding": {
  "x": {"field": "t", "type": "quantitative", "axis": {"orient": "top", "values": [0, 0.1, 0.2, 0.3, 0.4, 0.5, 0.6, 0.7, 0.8, 0.9, 1], "labels": false, "title": null, "maxExtent": 0}},
  "y": {"field": "v", "type": "quantitative", "axis": {"orient": "right", "values": [-4, -3, -2, -1, 0, 1, 2, 3, 4], "labels": false, "title": null, "maxExtent": 0}}
 }
}
],
"resolve": {"axis": {"x": "independent", "y": "independent"}}
}
